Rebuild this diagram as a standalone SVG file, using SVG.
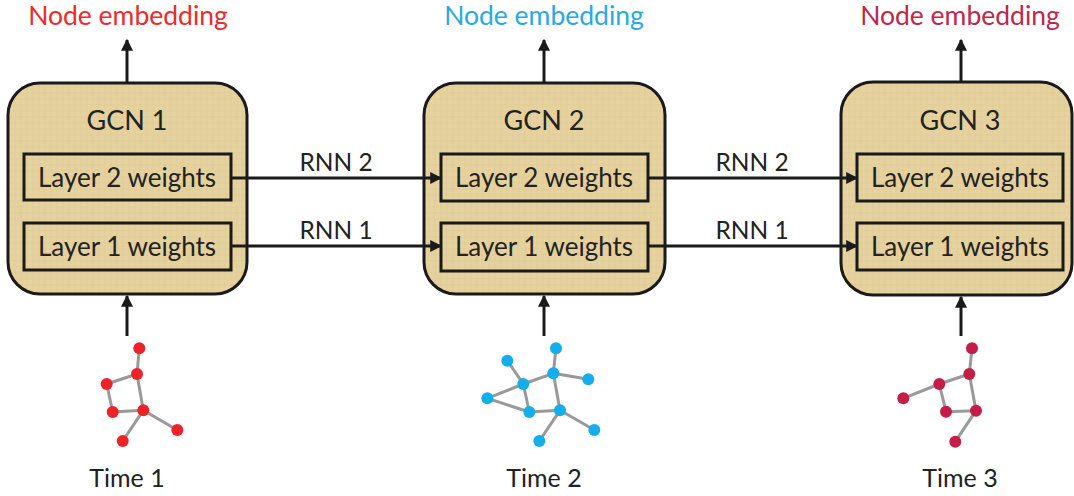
<svg xmlns="http://www.w3.org/2000/svg" width="1074" height="496" viewBox="0 0 1074 496">
<defs>
<marker id="ah" viewBox="0 0 10 10" refX="9" refY="5" markerWidth="4" markerHeight="4" markerUnits="strokeWidth" orient="auto">
<path d="M0,0 L10,5 L0,10 z" fill="#1a1a1a"/>
</marker>
<pattern id="tex" width="6" height="6" patternUnits="userSpaceOnUse">
<rect width="6" height="6" fill="#E6D29F"/>
<path d="M0,3 H6 M3,0 V6" stroke="#D9C48E" stroke-width="0.7" opacity="0.6"/>
</pattern>
<style>
.gcn{fill:url(#tex);stroke:#1a1a1a;stroke-width:3}
.layer{fill:none;stroke:#1a1a1a;stroke-width:3}
.t{font-family:Lato,"Open Sans",sans-serif;fill:#222;text-anchor:middle}
.big{font-size:27px}
.time{font-size:25px}
.lay{font-size:26px}
.rnn{font-size:24.5px}
.emb{font-family:Lato,"Open Sans",sans-serif;font-size:26.5px;text-anchor:middle}
.conn{stroke:#1a1a1a;stroke-width:3;fill:none;marker-end:url(#ah)}
.edge{stroke:#999;stroke-width:3}
.n1{fill:#EE2328}
.n2{fill:#14AEEA}
.n3{fill:#C41E48}
</style>
</defs>
<rect width="1074" height="496" fill="#fff"/>

<g id="gcn1">
<rect class="gcn" x="8" y="83" width="239" height="211" rx="32"/>
<text class="t big" x="127" y="130">GCN 1</text>
<rect class="layer" x="24" y="154" width="207" height="46"/>
<text class="t lay" x="127" y="187">Layer 2 weights</text>
<rect class="layer" x="24" y="223" width="207" height="47"/>
<text class="t lay" x="127" y="256">Layer 1 weights</text>
</g>
<g id="gcn2">
<rect class="gcn" x="424" y="83" width="241" height="211" rx="32"/>
<text class="t big" x="544" y="130">GCN 2</text>
<rect class="layer" x="441" y="154" width="207" height="47"/>
<text class="t lay" x="544" y="187">Layer 2 weights</text>
<rect class="layer" x="441" y="223" width="207" height="48"/>
<text class="t lay" x="544" y="256">Layer 1 weights</text>
</g>
<g id="gcn3">
<rect class="gcn" x="841" y="82" width="231" height="213" rx="32"/>
<text class="t big" x="960" y="130">GCN 3</text>
<rect class="layer" x="857" y="154" width="206" height="47"/>
<text class="t lay" x="960" y="187">Layer 2 weights</text>
<rect class="layer" x="857" y="223" width="206" height="47"/>
<text class="t lay" x="960" y="256">Layer 1 weights</text>
</g>

<g id="labels">
<text class="emb" x="128" y="25" fill="#EE2A2A">Node embedding</text>
<text class="emb" x="544" y="25" fill="#2AA9E0">Node embedding</text>
<text class="emb" x="960" y="25" fill="#C0254A">Node embedding</text>
<text class="t time" x="127" y="487">Time 1</text>
<text class="t time" x="544" y="487">Time 2</text>
<text class="t time" x="960" y="487">Time 3</text>
</g>

<g id="connectors">
<line class="conn" x1="127" y1="83" x2="127" y2="40"/>
<line class="conn" x1="544" y1="83" x2="544" y2="40"/>
<line class="conn" x1="961" y1="82" x2="961" y2="40"/>
<line class="conn" x1="127" y1="336" x2="127" y2="296"/>
<line class="conn" x1="544" y1="336" x2="544" y2="296"/>
<line class="conn" x1="961" y1="336" x2="961" y2="297"/>
<line class="conn" x1="231" y1="178" x2="441" y2="178"/>
<line class="conn" x1="231" y1="246" x2="441" y2="246"/>
<line class="conn" x1="648" y1="178" x2="857" y2="178"/>
<line class="conn" x1="648" y1="246" x2="857" y2="246"/>
<text class="t rnn" x="336" y="171">RNN 2</text>
<text class="t rnn" x="336" y="239">RNN 1</text>
<text class="t rnn" x="752" y="171">RNN 2</text>
<text class="t rnn" x="752" y="239">RNN 1</text>
</g>

<g id="graph1">
<g class="edge">
<line x1="139.3" y1="348.3" x2="137" y2="374"/>
<line x1="137" y1="374" x2="106.7" y2="384"/>
<line x1="106.7" y1="384" x2="112.7" y2="412"/>
<line x1="112.7" y1="412" x2="143.3" y2="410.3"/>
<line x1="137" y1="374" x2="143.3" y2="410.3"/>
<line x1="143.3" y1="410.3" x2="177.3" y2="430"/>
<line x1="143.3" y1="410.3" x2="122.7" y2="441"/>
</g>
<g class="n1">
<circle cx="139.3" cy="348.3" r="6"/>
<circle cx="137" cy="374" r="6"/>
<circle cx="106.7" cy="384" r="6"/>
<circle cx="112.7" cy="412" r="6"/>
<circle cx="143.3" cy="410.3" r="6"/>
<circle cx="177.3" cy="430" r="6"/>
<circle cx="122.7" cy="441" r="6"/>
</g>
</g>

<g id="graph2">
<g class="edge">
<line x1="556" y1="348.3" x2="553.3" y2="373.3"/>
<line x1="553.3" y1="373.3" x2="588.3" y2="379.3"/>
<line x1="553.3" y1="373.3" x2="523.3" y2="384"/>
<line x1="507.3" y1="360.7" x2="523.3" y2="384"/>
<line x1="523.3" y1="384" x2="487.3" y2="398.3"/>
<line x1="487.3" y1="398.3" x2="529.3" y2="412"/>
<line x1="523.3" y1="384" x2="529.3" y2="412"/>
<line x1="529.3" y1="412" x2="560" y2="410.3"/>
<line x1="553.3" y1="373.3" x2="560" y2="410.3"/>
<line x1="560" y1="410.3" x2="594.3" y2="430"/>
<line x1="560" y1="410.3" x2="539.3" y2="441"/>
</g>
<g class="n2">
<circle cx="556" cy="348.3" r="6"/>
<circle cx="507.3" cy="360.7" r="6"/>
<circle cx="553.3" cy="373.3" r="6"/>
<circle cx="588.3" cy="379.3" r="6"/>
<circle cx="523.3" cy="384" r="6"/>
<circle cx="487.3" cy="398.3" r="6"/>
<circle cx="529.3" cy="412" r="6"/>
<circle cx="560" cy="410.3" r="6"/>
<circle cx="594.3" cy="430" r="6"/>
<circle cx="539.3" cy="441" r="6"/>
</g>
</g>

<g id="graph3">
<g class="edge">
<line x1="972" y1="348.3" x2="969.3" y2="374"/>
<line x1="969.3" y1="374" x2="939.3" y2="384"/>
<line x1="939.3" y1="384" x2="903.3" y2="398.3"/>
<line x1="939.3" y1="384" x2="946" y2="411.7"/>
<line x1="946" y1="411.7" x2="976" y2="410.7"/>
<line x1="969.3" y1="374" x2="976" y2="410.7"/>
<line x1="976" y1="410.7" x2="955.3" y2="441.7"/>
</g>
<g class="n3">
<circle cx="972" cy="348.3" r="6"/>
<circle cx="969.3" cy="374" r="6"/>
<circle cx="939.3" cy="384" r="6"/>
<circle cx="903.3" cy="398.3" r="6"/>
<circle cx="946" cy="411.7" r="6"/>
<circle cx="976" cy="410.7" r="6"/>
<circle cx="955.3" cy="441.7" r="6"/>
</g>
</g>
</svg>
